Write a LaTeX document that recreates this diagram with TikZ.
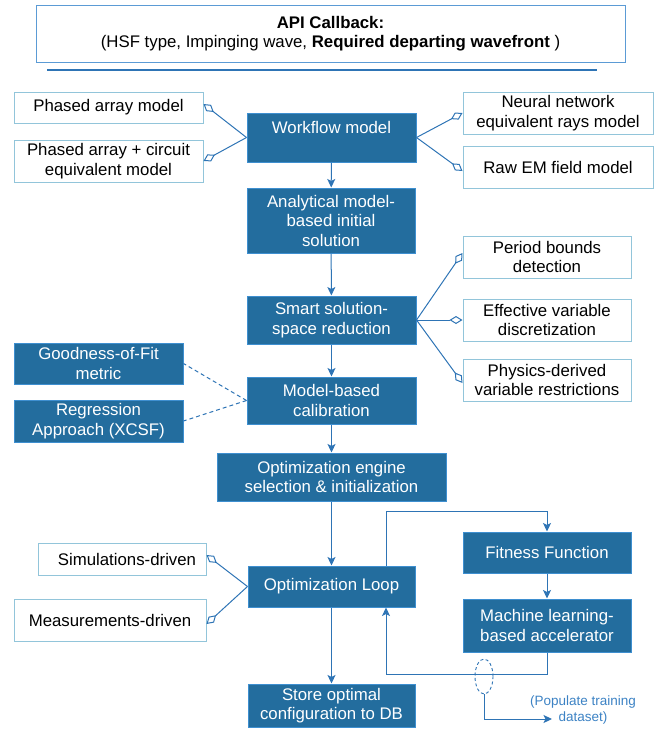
\documentclass[tikz,border=0pt]{standalone}
\usepackage{fontspec}
\setmainfont{Liberation Sans}
\usetikzlibrary{arrows.meta,shapes.geometric}
\definecolor{dfill}{HTML}{236D9E}
\definecolor{dborder}{HTML}{3E8FD0}
\definecolor{lborder}{HTML}{92C5DA}
\definecolor{lnc}{HTML}{2E74B5}
\definecolor{topb}{HTML}{5B9BD5}
\definecolor{popc}{HTML}{3C82C4}
\tikzset{
  base/.style={inner sep=0pt, align=center, font=\fontsize{16.8}{19.5}\selectfont},
  dbox/.style={base, rectangle, fill=dfill, draw=dborder, line width=1pt, text=white},
  wbox/.style={base, rectangle, fill=white, draw=lborder, line width=1pt, text=black},
  arr/.style={draw=lnc, line width=1pt, -{Stealth[length=8.5pt,width=8pt,inset=2pt]}},
  agg/.style={draw=lnc, line width=1pt, -{Diamond[open,length=13pt,width=8pt,line width=1pt]}},
  dsh/.style={draw=lnc, line width=1pt, dash pattern=on 4pt off 3pt},
}
\begin{document}
\begin{tikzpicture}[x=1pt,y=-1pt]
\useasboundingbox (0,0) rectangle (660,731);
% top box
\node[wbox, draw=topb, minimum width=589pt, minimum height=57pt] (api) at (330.5,33.5)
  {\textbf{API Callback:}\\(HSF type, Impinging wave, \textbf{Required departing wavefront} )};
\coordinate (tl1) at (47,70);
\coordinate (tl2) at (597,70);
\draw[lnc, line width=1.5pt] (tl1) -- (tl2);
% main column
\node[dbox, minimum width=169pt, minimum height=49pt, text depth=21pt] (wf) at (331.5,137.5) {Workflow model};
\node[dbox, minimum width=168pt, minimum height=65pt] (ana) at (331,220.5) {Analytical model-\\based initial\\solution};
\node[dbox, minimum width=169pt, minimum height=48pt] (smart) at (331.5,320) {Smart solution-\\space reduction};
\node[dbox, minimum width=169pt, minimum height=47pt] (cal) at (331.5,400.5) {Model-based\\calibration};
\node[dbox, minimum width=229pt, minimum height=48pt] (eng) at (331.5,477) {Optimization engine\\selection \& initialization};
\node[dbox, minimum width=167pt, minimum height=41pt] (loop) at (331.5,586.5) {Optimization Loop};
\node[dbox, minimum width=167pt, minimum height=43pt] (store) at (331.5,705.5) {Store optimal\\configuration to DB};
\node[dbox, minimum width=168pt, minimum height=41pt] (fit) at (547,552.5) {Fitness Function};
\node[dbox, minimum width=168pt, minimum height=53pt] (ml) at (547,625.5) {Machine learning-\\based accelerator};
\node[dbox, minimum width=169pt, minimum height=41pt] (gof) at (98.5,363.5) {Goodness-of-Fit\\metric};
\node[dbox, minimum width=169pt, minimum height=42pt] (reg) at (98.5,421) {Regression\\Approach (XCSF)};
% white boxes
\node[wbox, minimum width=189pt, minimum height=31pt] (pam) at (108.5,107.5) {Phased array model};
\node[wbox, minimum width=189pt, minimum height=42pt] (pac) at (108.5,161) {Phased array + circuit\\equivalent model};
\node[wbox, minimum width=190pt, minimum height=42pt] (nn) at (558,113) {Neural network\\equivalent rays model};
\node[wbox, minimum width=190pt, minimum height=42pt] (raw) at (558,167) {Raw EM field model};
\node[wbox, minimum width=168pt, minimum height=42pt] (pbd) at (547,257) {Period bounds\\detection};
\node[wbox, minimum width=168pt, minimum height=42pt] (evd) at (547,320) {Effective variable\\discretization};
\node[wbox, minimum width=168pt, minimum height=42pt] (pdv) at (547,380) {Physics-derived\\variable restrictions};
\node[wbox, minimum width=168pt, minimum height=32pt] (sim) at (122,559) {\hspace{10pt}Simulations-driven};
\node[wbox, minimum width=192pt, minimum height=42pt] (meas) at (110,620) {Measurements-driven};
% main arrows
\draw[arr] (wf) -- (ana);
\draw[arr] (ana) -- (smart);
\draw[arr] (smart) -- (cal);
\draw[arr] (cal) -- (eng);
\draw[arr] (eng) -- (loop);
\draw[arr] (loop) -- (store);
\draw[arr] (fit) -- (ml);
% aggregation connectors
\draw[agg] (wf.west) -- ([yshift=3.5pt]pam.east);
\draw[agg] (wf.west) -- (pac.east);
\draw[agg] (wf.east) -- (nn.west);
\draw[agg] (wf.east) -- ([yshift=-4pt]raw.west);
\draw[agg] (smart.east) -- ([yshift=4pt]pbd.west);
\draw[agg] (smart.east) -- (evd.west);
\draw[agg] (smart.east) -- ([yshift=-3pt]pdv.west);
\draw[agg] (loop.west) -- ([yshift=4pt]sim.east);
\draw[agg] (loop.west) -- ([yshift=-4pt]meas.east);
% dashed
\draw[dsh] (cal.west) -- (gof.east);
\draw[dsh] (cal.west) -- (reg.east);
% loop
\draw[arr] ([xshift=54.5pt]loop.north) -- ++(0,-54) -| (fit.north);
\draw[arr] (ml.south) -- ++(0,22) -| ([xshift=54.5pt]loop.south);
% populate
\node[draw=lnc, line width=0.9pt, dash pattern=on 3pt off 2.5pt, ellipse, minimum width=18pt, minimum height=35pt, inner sep=0pt] (ell) at (484,676.5) {};
\coordinate (pe) at (552,719);
\draw[arr] (ell.south) |- (pe);
\node[inner sep=0pt, align=center, text=popc, font=\fontsize{13.5}{16}\selectfont] (pop) at (583,710) {(Populate training\\dataset)};
\end{tikzpicture}
\end{document}
